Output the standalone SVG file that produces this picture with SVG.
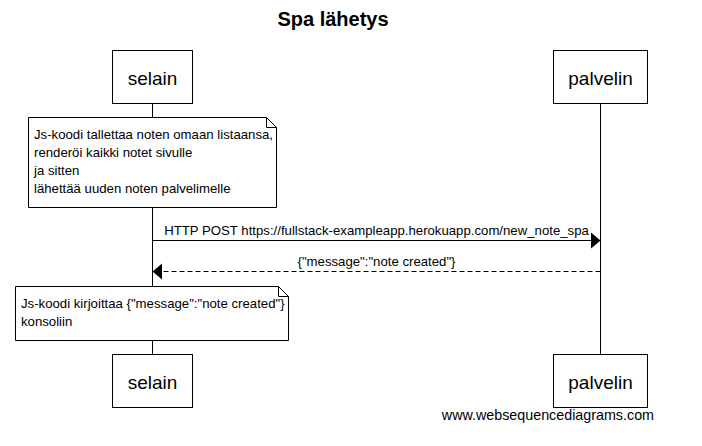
<svg xmlns="http://www.w3.org/2000/svg" width="702" height="446" viewBox="0 0 702 446">
<style>
text{font-family:"Liberation Sans",Arial,sans-serif;fill:#000}
.box{fill:#fff;stroke:#000;stroke-width:1}
.life{stroke:#000;stroke-width:1}
.pt{font-size:19px;text-anchor:middle}
.nt{font-size:13.2px}
.ml{font-size:13.2px;text-anchor:middle}
.msg{stroke:#000;stroke-width:1;fill:none}
.dash{stroke-dasharray:5,3}
</style>
<rect width="702" height="446" fill="#fff"/>
<text x="333" y="26" font-size="20" font-weight="bold" text-anchor="middle">Spa lähetys</text>
<g id="lifelines">
<line class="life" x1="152.5" y1="103" x2="152.5" y2="354"/>
<line class="life" x1="600.5" y1="103" x2="600.5" y2="354"/>
</g>
<g id="selain-top"><rect class="box" x="112.5" y="50.5" width="80" height="53"/><text class="pt" x="152.5" y="85">selain</text></g>
<g id="palvelin-top"><rect class="box" x="553.5" y="50.5" width="94" height="53"/><text class="pt" x="600.5" y="85">palvelin</text></g>
<g id="selain-bottom"><rect class="box" x="112.5" y="354.5" width="80" height="53"/><text class="pt" x="152.5" y="389">selain</text></g>
<g id="palvelin-bottom"><rect class="box" x="553.5" y="354.5" width="94" height="53"/><text class="pt" x="600.5" y="389">palvelin</text></g>
<g id="note1">
<path class="box" d="M28.5 117.5 H266.5 L276.5 127.5 V207.5 H28.5 Z"/>
<path class="msg" d="M266.5 117.5 V127.5 H276.5"/>
<text class="nt" x="34" y="139">Js-koodi tallettaa noten omaan listaansa,</text>
<text class="nt" x="34" y="157">renderöi kaikki notet sivulle</text>
<text class="nt" x="34" y="175">ja sitten</text>
<text class="nt" x="34" y="193">lähettää uuden noten palvelimelle</text>
</g>
<g id="connectors">
<line class="msg" x1="152.5" y1="240.5" x2="592" y2="240.5"/>
<polygon points="600.5,240.5 591,232.5 591,248.5" fill="#000"/>
<text class="ml" x="376.5" y="235">HTTP POST https://fullstack-exampleapp.herokuapp.com/new_note_spa</text>
<line class="msg dash" x1="600.5" y1="271.5" x2="161" y2="271.5"/>
<polygon points="152.5,271.5 162,263.5 162,279.5" fill="#000"/>
<text class="ml" x="376.5" y="266">{"message":"note created"}</text>
</g>
<g id="note2">
<path class="box" d="M15.5 286.5 H278.5 L288.5 296.5 V340.5 H15.5 Z"/>
<path class="msg" d="M278.5 286.5 V296.5 H288.5"/>
<text class="nt" x="21" y="308">Js-koodi kirjoittaa {"message":"note created"}</text>
<text class="nt" x="21" y="326">konsoliin</text>
</g>
<text x="654" y="420" font-size="14.3" text-anchor="end">www.websequencediagrams.com</text>
</svg>
